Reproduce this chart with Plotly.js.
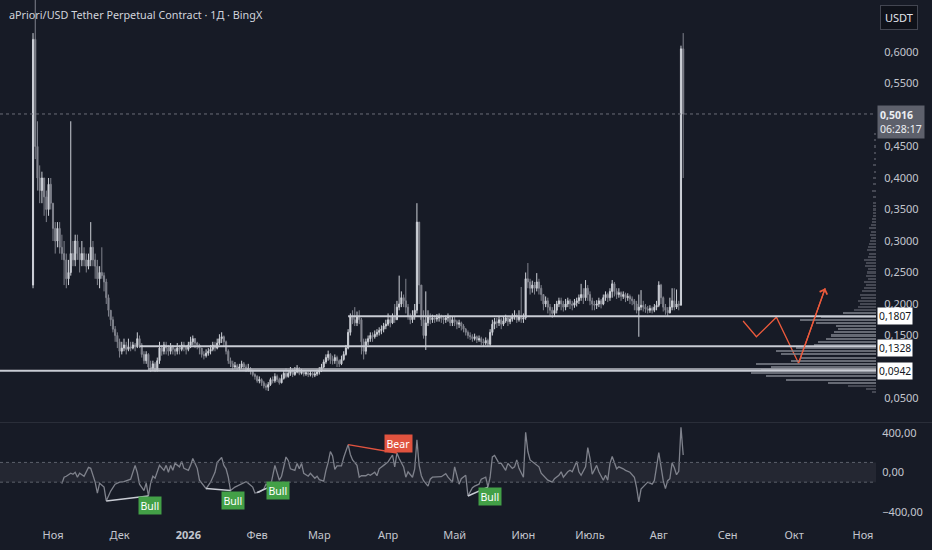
<!DOCTYPE html>
<html><head><meta charset="utf-8">
<script src="https://cdn.plot.ly/plotly-3.0.1.min.js"></script>
<style>html,body{margin:0;padding:0;background:#171b26;}#chart{width:932px;height:550px;}</style>
</head><body><div id="chart"></div>
<script>
// ---------- DATA ----------
const firstDay = '2025-10-23';
const firstOpen = 0.23;
const closes = [
.62,.45,.40,.38,.40,.37,.35,.39,.36,.32,
.30,.32,.29,.28,.27,.24,.25,.28,.27,.30,
.28,.27,.28,.27,.26,.27,.29,.27,.26,.24,
.25,.245,.235,.21,.19,.175,.16,.15,.14,.125,
.13,.135,.128,.132,.13,.135,.132,.145,.135,.12,
.11,.12,.10,.098,.105,.095,.11,.13,.125,.135,
.13,.125,.132,.128,.125,.13,.128,.135,.132,.128,
.135,.14,.145,.138,.135,.13,.12,.118,.122,.125,
.128,.135,.13,.138,.145,.148,.14,.125,.11,.105,
.10,.102,.098,.10,.105,.10,.095,.098,.093,.088,
.085,.078,.08,.075,.07,.068,.072,.08,.078,.085,
.08,.075,.082,.09,.085,.09,.095,.088,.092,.098,
.09,.093,.089,.091,.088,.09,.087,.089,.092,.095,
.10,.108,.115,.12,.112,.11,.115,.11,.105,.112,
.12,.13,.155,.18,.175,.17,.18,.175,.14,.125,
.14,.145,.15,.148,.152,.155,.158,.16,.165,.168,
.175,.17,.18,.175,.195,.20,.21,.205,.195,.18,
.175,.18,.19,.33,.23,.175,.15,.17,.18,.175,
.178,.176,.178,.18,.177,.175,.178,.18,.17,.175,
.172,.168,.17,.165,.16,.155,.15,.148,.145,.148,
.143,.145,.14,.138,.142,.136,.155,.168,.172,.17,
.175,.168,.173,.178,.172,.176,.18,.182,.175,.18,
.176,.178,.24,.235,.225,.23,.225,.235,.225,.215,
.20,.205,.195,.19,.185,.19,.20,.205,.20,.195,
.20,.205,.20,.198,.202,.205,.21,.215,.21,.225,
.215,.205,.20,.198,.20,.205,.20,.21,.215,.21,
.22,.232,.22,.215,.218,.212,.215,.21,.212,.208,
.205,.20,.19,.195,.198,.195,.192,.19,.193,.19,
.195,.198,.23,.21,.195,.19,.186,.195,.205,.195,
.20,.198,.605,.5016];
const highs = [
.63,.69,.49,.42,.41,.40,.38,.40,.40,.36,
.33,.33,.33,.31,.30,.28,.27,.49,.30,.31,
.31,.29,.30,.29,.28,.28,.33,.30,.28,.27,
.26,.29,.25,.24,.215,.19,.18,.165,.155,.145,
.14,.145,.14,.145,.14,.14,.138,.155,.15,.138,
.125,.125,.122,.11,.11,.108,.115,.14,.135,.14,
.14,.135,.138,.135,.13,.138,.135,.14,.14,.135,
.14,.148,.15,.146,.14,.137,.13,.125,.128,.13,
.135,.14,.14,.145,.152,.155,.15,.142,.128,.115,
.11,.108,.105,.105,.11,.108,.104,.105,.10,.096,
.09,.087,.085,.082,.078,.074,.076,.083,.085,.09,
.088,.083,.088,.095,.098,.094,.10,.097,.10,.103,
.10,.097,.095,.095,.093,.094,.092,.093,.096,.10,
.105,.112,.12,.126,.122,.118,.12,.118,.112,.118,
.125,.135,.16,.185,.19,.195,.188,.19,.178,.145,
.145,.15,.155,.155,.158,.16,.163,.166,.17,.175,
.185,.18,.185,.20,.205,.245,.22,.215,.24,.20,
.185,.19,.20,.36,.33,.23,.19,.22,.19,.185,
.183,.182,.184,.185,.183,.18,.182,.185,.182,.18,
.18,.175,.175,.172,.168,.162,.158,.155,.152,.153,
.15,.15,.148,.145,.147,.145,.16,.175,.178,.178,
.18,.178,.18,.183,.18,.18,.185,.19,.185,.19,
.227,.185,.25,.265,.24,.237,.235,.249,.24,.23,
.215,.212,.21,.20,.195,.20,.205,.21,.21,.205,
.208,.21,.208,.205,.208,.21,.215,.232,.225,.238,
.23,.22,.21,.205,.206,.21,.208,.215,.22,.218,
.225,.238,.235,.225,.225,.22,.22,.218,.217,.215,
.212,.208,.205,.215,.222,.205,.20,.197,.198,.196,
.20,.205,.236,.232,.212,.20,.195,.21,.225,.225,
.223,.205,.61,.63];
const lows = [
.225,.43,.38,.36,.36,.34,.33,.34,.35,.30,
.28,.29,.28,.27,.23,.225,.23,.245,.26,.26,
.27,.25,.26,.26,.25,.255,.26,.26,.24,.23,
.225,.24,.22,.20,.18,.165,.155,.14,.13,.115,
.12,.125,.12,.125,.125,.128,.125,.13,.13,.115,
.105,.105,.095,.092,.094,.092,.093,.105,.118,.12,
.12,.118,.12,.12,.118,.12,.12,.125,.125,.12,
.125,.13,.135,.13,.128,.12,.115,.112,.115,.118,
.12,.125,.125,.128,.135,.138,.132,.12,.105,.10,
.095,.097,.094,.095,.097,.096,.092,.093,.088,.085,
.08,.075,.074,.07,.066,.063,.062,.07,.074,.075,
.076,.072,.074,.08,.082,.083,.086,.084,.086,.09,
.087,.088,.085,.086,.084,.085,.083,.084,.086,.088,
.092,.098,.105,.11,.105,.104,.105,.10,.10,.103,
.11,.118,.128,.15,.168,.165,.165,.168,.12,.112,
.12,.135,.14,.14,.145,.148,.15,.152,.155,.16,
.165,.163,.168,.17,.175,.19,.195,.195,.185,.175,
.168,.17,.175,.185,.2,.165,.145,.127,.165,.168,
.17,.17,.172,.172,.17,.168,.17,.172,.165,.165,
.165,.16,.162,.158,.155,.15,.145,.143,.14,.142,
.138,.14,.135,.133,.135,.132,.133,.15,.16,.162,
.165,.16,.165,.17,.165,.168,.172,.175,.17,.172,
.17,.17,.175,.225,.215,.218,.215,.22,.215,.205,
.19,.195,.185,.18,.178,.18,.185,.195,.19,.188,
.19,.195,.192,.19,.194,.196,.2,.205,.2,.205,
.205,.198,.19,.19,.192,.195,.193,.198,.205,.203,
.205,.21,.212,.208,.21,.205,.208,.203,.205,.20,
.198,.19,.185,.148,.19,.188,.186,.185,.186,.185,
.187,.19,.195,.2,.188,.183,.18,.185,.19,.19,
.192,.19,.198,.40];

// CCI-style oscillator, read at candle indices
const cciIdx = [13,14,15,17,18,19,20,21,23,25,26,27,28,29,30,32,33,35,37,39,41,44,46,47,48,50,51,52,53,54,55,57,59,60,61,62,63,64,66,67,68,70,71,72,73,74,75,77,78,80,82,83,85,86,87,88,89,91,93,96,97,99,100,101,102,104,105,107,108,109,111,112,114,115,116,118,119,120,121,122,124,125,127,128,129,131,132,133,134,135,136,137,139,140,142,143,144,146,147,148,150,151,152,154,155,156,158,160,161,162,163,164,165,167,168,169,171,172,173,174,175,176,178,179,180,182,183,184,186,187,189,190,192,193,195,196,198,199,201,202,204,205,206,207,208,210,211,213,214,216,217,218,219,221,222,223,224,226,228,229,231,232,234,235,237,238,239,241,242,243,245,246,247,249,250,251,252,254,255,257,258,259,260,261,263,264,266,267,269,270,271,272,273,274,276,277,279,280,282,283,284,285,286,287,288,289,290,291,292,293];
const cciVal = [-115,-50,-40,-10,-20,0,-50,-10,-40,50,40,-40,-100,-210,-110,-150,-290,-190,-120,-100,-95,-70,70,-5,-120,-185,-110,-240,-110,-40,-60,70,20,70,0,70,20,90,55,110,40,20,70,140,90,40,-80,-130,-165,-100,0,100,150,70,35,-50,-185,-150,-130,-95,-110,-150,-210,-205,-200,-170,-120,-145,-50,70,-80,-40,155,120,35,20,90,35,90,-10,-40,-10,-60,-40,-75,-90,20,100,210,165,30,65,65,150,280,180,125,70,-50,-35,-35,-20,-30,0,-35,35,70,105,140,175,55,195,140,55,-50,5,-50,35,330,70,-35,-85,-140,-70,-50,-50,-45,-45,-15,-50,-100,55,-120,-65,-30,-240,-155,-140,-120,-70,-50,-150,-50,155,170,90,90,20,90,40,55,125,40,-50,405,210,125,90,55,-10,-50,-80,-100,-65,-30,5,-50,5,20,5,110,5,-30,55,250,140,-20,70,5,-80,-30,-80,90,160,35,55,35,20,0,-20,-50,-155,-300,-170,-120,-100,-120,-85,200,40,-85,-165,-85,-65,95,45,-25,10,455,175];

// divergences (candle index of the two pivots)
const divFrom = [33, 78, 101, 142, 196];
const divTo   = [52, 89, 107, 164, 205];
const divKind = ['Bull','Bull','Bull','Bear','Bull'];

// visible-range volume profile
const vpPrice = [0.060,0.065,0.070,0.075,0.080,0.085,0.090,0.095,0.100,0.105,0.110,0.115,0.120,0.125,0.130,0.135,0.140,0.145,0.150,0.155,0.160,0.165,0.170,0.175,0.180,0.185,0.190,0.195,0.200,0.205,0.210,0.215,0.220,0.225,0.230,0.235,0.240,0.245,0.250,0.255,0.260,0.265,0.270,0.275,0.280,0.285,0.290,0.295,0.300,0.305,0.310,0.315,0.320,0.325,0.330,0.335,0.340,0.345,0.350,0.355,0.360,0.370,0.380,0.390,0.400,0.410,0.420,0.430,0.440,0.450,0.460,0.470];
const vpVol   = [4,10,28,48,90,110,125,115,105,120,85,75,95,100,80,62,58,50,45,42,38,40,60,76,55,33,22,18,16,18,15,16,14,12,10,12,8,10,9,8,11,10,12,8,7,9,8,7,6,5,6,5,7,5,4,4,3,3,3,3,3,3,4,3,3,2,3,2,2,2,2,2];

// horizontal levels
const levelPrices = [0.1807, 0.1328, 0.0942];
const levelLabels = ['0,1807','0,1328','0,0942'];
const levelStartIdx = [142, 48, -20];

// projected path (drawing)
const pathDates  = ['2026-09-08','2026-09-14','2026-09-23','2026-10-03','2026-10-15'];
const pathPrices = [0.173, 0.148, 0.179, 0.106, 0.225];

const lastPrice = 0.5016, lastLabel = '0,5016', countdown = '06:28:17';
// 0,1000 and 0,5000 are hidden behind price labels in the reference
const priceTicks = [0.05,0.15,0.20,0.25,0.30,0.35,0.40,0.45,0.55,0.60];
const priceTickText = ['0,0500','0,1500','0,2000','0,2500','0,3000','0,3500','0,4000','0,4500','0,5500','0,6000'];
const cciTicks = [-400, 0, 400];
const cciTickText = ['−400,00','0,00','400,00'];
const monthTicks = ['2025-11-01','2025-12-01','2026-01-01','2026-02-01','2026-03-01','2026-04-01','2026-05-01','2026-06-01','2026-07-01','2026-08-01','2026-09-01','2026-10-01','2026-11-01'];
const monthText = ['Ноя','Дек','<b>2026</b>','Фев','Мар','Апр','Май','Июн','Июль','Авг','Сен','Окт','Ноя'];
const title = 'aPriori/USD Tether Perpetual Contract · 1Д · BingX';

// ---------- BUILD ----------
const DAY = 864e5;
const t0 = Date.parse(firstDay + 'T00:00:00Z');
const fmt = ms => new Date(ms).toISOString().replace('T',' ').slice(0,19);
const dates = closes.map((_, i) => fmt(t0 + i*DAY));
const opens = closes.map((c, i) => i === 0 ? firstOpen : closes[i-1]);
const hi = highs.map((h, i) => Math.max(h, opens[i], closes[i]));
const lo = lows.map((l, i) => Math.min(l, opens[i], closes[i]));
const cciMap = {}; cciIdx.forEach((k, j) => cciMap[k] = cciVal[j]);

const W = 932 - 56, PH = 527;
const nov1 = Date.parse('2025-11-01T00:00:00Z'), pxDay = 2.219, novPx = 53;
const xr = [fmt(nov1 - novPx/pxDay*DAY), fmt(nov1 + (W - novPx)/pxDay*DAY)];
const mainDom = [(PH-422)/PH, 1], cciDom = [0, (PH-423)/PH];

const BG = '#171b26', TXT = '#c3c6ce', FONT = 'Noto Sans, Roboto, sans-serif';

const traces = [];
traces.push({type:'bar', orientation:'h', x: vpVol, y: vpPrice, xaxis:'x2', yaxis:'y',
  width: 0.0033, marker:{color: vpPrice.map(p => (p >= 0.075 && p <= 0.185) ? 'rgba(130,133,143,0.75)' : 'rgba(100,103,113,0.6)'), line:{width:0}},
  hoverinfo:'skip', showlegend:false});
traces.push({type:'candlestick', x: dates, open: opens, high: hi, low: lo, close: closes, xaxis:'x', yaxis:'y',
  increasing:{line:{color:'#cdd0d7', width:1}, fillcolor:'#cdd0d7'},
  decreasing:{line:{color:'#80838d', width:1}, fillcolor:'#80838d'},
  whiskerwidth:0, hoverinfo:'skip', showlegend:false});
traces.push({type:'scatter', mode:'lines', x: pathDates, y: pathPrices, xaxis:'x', yaxis:'y',
  line:{color:'#ec5a3c', width:1.3}, hoverinfo:'skip', showlegend:false});
traces.push({type:'scatter', mode:'lines', x: cciIdx.map(k => dates[k]), y: cciVal, xaxis:'x', yaxis:'y2',
  line:{color:'#7f828c', width:1.3}, hoverinfo:'skip', showlegend:false});
divFrom.forEach((a, j) => {
  const b = divTo[j];
  traces.push({type:'scatter', mode:'lines', x:[dates[a], dates[b]], y:[cciMap[a], cciMap[b]], xaxis:'x', yaxis:'y2',
    line:{color: divKind[j] === 'Bear' ? '#e0533f' : '#c9ccd4', width:1.5}, hoverinfo:'skip', showlegend:false});
});

const shapes = [];
levelPrices.forEach((p, j) => {
  const x0 = levelStartIdx[j] < 0 ? xr[0] : dates[levelStartIdx[j]];
  shapes.push({type:'line', xref:'x', yref:'y', x0: x0, x1: xr[1], y0: p, y1: p, line:{color:'#c9ccd4', width:2}});
});
shapes.push({type:'line', xref:'x', yref:'y', x0: dates[52], x1: xr[1], y0: 0.0968, y1: 0.0968, line:{color:'#b8bbc3', width:1.5}});
shapes.push({type:'line', xref:'paper', yref:'y', x0:0, x1:1, y0:lastPrice, y1:lastPrice, line:{color:'#6a6d78', width:1, dash:'dot'}});
shapes.push({type:'rect', xref:'paper', yref:'y2', x0:0, x1:1, y0:-100, y1:100, fillcolor:'rgba(120,123,134,0.13)', line:{width:0}, layer:'below'});
[-100, 100].forEach(v => shapes.push({type:'line', xref:'paper', yref:'y2', x0:0, x1:1, y0:v, y1:v, line:{color:'#5d606b', width:1, dash:'dot'}}));
shapes.push({type:'line', xref:'paper', yref:'paper', x0:0, x1:1.07, y0:(PH-422.5)/PH, y1:(PH-422.5)/PH, line:{color:'#2a2e39', width:1}});

const levelShift = [0, -2, 0];
const ann = [];
ann.push({xref:'paper', yref:'paper', x:0, y:1, xanchor:'left', yanchor:'middle', xshift:7, yshift:-14, showarrow:false,
  text: title, font:{family:FONT, size:10.8, color:'#d1d4dc'}});
ann.push({xref:'paper', yref:'paper', x:1, y:1, xanchor:'left', yanchor:'top', xshift:4, yshift:-5, showarrow:false,
  text:'USDT', bgcolor:'#0f121a', bordercolor:'#434651', borderwidth:1, borderpad:4, font:{family:FONT, size:11, color:'#e1e3ea'}});
levelPrices.forEach((p, j) => ann.push({xref:'paper', yref:'y', x:1, y:p, xanchor:'left', yanchor:'middle', xshift:1, yshift: levelShift[j], showarrow:false,
  text: levelLabels[j], bgcolor:'#ffffff', borderpad:1, font:{family:FONT, size:10.3, color:'#131722'}}));
ann.push({xref:'paper', yref:'y', x:1, y:lastPrice, xanchor:'left', yanchor:'top', xshift:1, yshift:9, showarrow:false, align:'left',
  text: '<b>'+lastLabel+'</b><br>'+countdown, bgcolor:'#5d606b', borderpad:2, font:{family:FONT, size:10.5, color:'#eceef2'}});
ann.push({xref:'x', yref:'y', axref:'x', ayref:'y', x: pathDates[4], y: pathPrices[4], ax: pathDates[3], ay: pathPrices[3],
  showarrow:true, arrowhead:4, arrowsize:1.2, arrowwidth:1.3, arrowcolor:'#ec5a3c', standoff:0, text:''});
divTo.forEach((b, j) => {
  const bear = divKind[j] === 'Bear';
  ann.push({xref:'x', yref:'y2', x: dates[b], y: cciMap[b], xanchor: j === 2 ? 'left' : 'center', yanchor: bear ? 'bottom' : 'top',
    xshift: j === 2 ? -4 : 2, yshift: j === 2 ? 6 : 0, showarrow:false, text: divKind[j], bgcolor: bear ? '#e0533f' : '#43a047',
    borderpad:1.5, font:{family:FONT, size:10.5, color:'#ffffff'}});
});

const layout = {
  width:932, height:550, paper_bgcolor:BG, plot_bgcolor:BG,
  margin:{l:0, r:56, t:0, b:23}, showlegend:false, dragmode:false,
  font:{family:FONT, color:TXT, size:11},
  xaxis:{type:'date', range:xr, anchor:'y2', domain:[0,1], tickvals:monthTicks, ticktext:monthText,
    showgrid:false, zeroline:false, showline:false, ticks:'', tickfont:{family:FONT, size:11, color:TXT},
    rangeslider:{visible:false}, fixedrange:true},
  xaxis2:{overlaying:'x', range:[W, 0], visible:false, anchor:'y', fixedrange:true},
  yaxis:{domain:mainDom, range:[0.0127, 0.6825], side:'right', anchor:'x', tickvals:priceTicks, ticktext:priceTickText,
    showgrid:false, zeroline:false, showline:false, ticks:'outside', ticklen:5, tickcolor:'rgba(0,0,0,0)',
    tickfont:{family:FONT, size:11, color:TXT}, fixedrange:true},
  yaxis2:{domain:cciDom, range:[-554, 499], side:'right', anchor:'x', tickvals:cciTicks, ticktext:cciTickText,
    showgrid:false, zeroline:false, showline:false, ticks:'outside', ticklen:3, tickcolor:'rgba(0,0,0,0)',
    tickfont:{family:FONT, size:11, color:TXT}, fixedrange:true},
  shapes:shapes, annotations:ann, bargap:0
};
Plotly.newPlot('chart', traces, layout, {displayModeBar:false, staticPlot:true});
</script>
</body></html>
